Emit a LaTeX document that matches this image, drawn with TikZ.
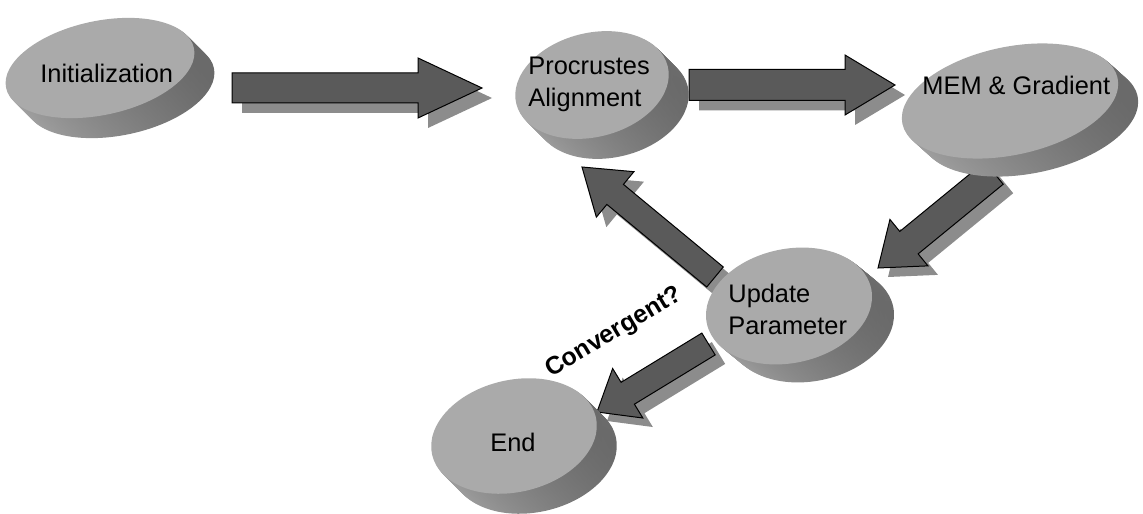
\documentclass[tikz,border=0pt]{standalone}
\usepackage{fontspec}
\setmainfont{Liberation Sans}
\usetikzlibrary{calc}

\definecolor{facegray}{HTML}{AAAAAA}
\definecolor{sidelight}{HTML}{A4A4A4}
\definecolor{sidedark}{HTML}{686868}
\definecolor{arrowfill}{HTML}{5A5A5A}
\definecolor{arrowshadow}{HTML}{8C8C8C}

\tikzset{
  disktop/.style={fill=facegray},
  diskside/.style={left color=sidelight, right color=sidedark},
  disklabel/.style={font=\fontsize{12.7}{16}\selectfont, inner sep=0pt, anchor=base west},
  asklabel/.style={font=\bfseries\fontsize{12.5}{14}\selectfont, inner sep=0pt, anchor=base west},
  arrowbody/.style={fill=arrowfill, draw=black, line width=0.5pt, line join=miter},
  arrowshade/.style={fill=arrowshadow},
}

% tilted cylinder: top face centre (#1,#2), radii #3/#4, tilt #5, depth offset (#6,#7)
\newcommand\drawdisk[7]{%
  \foreach \k in {0,...,17}{%
    \pgfmathsetmacro\f{1-\k/18}%
    \shade[diskside, rotate around={#5:(#1+\f*#6,#2+\f*#7)}]
      (#1+\f*#6,#2+\f*#7) ellipse [x radius=#3, y radius=#4];
  }%
  \fill[disktop, rotate around={#5:(#1,#2)}] (#1,#2) ellipse [x radius=#3, y radius=#4];
}

% block arrow outline from #2 to tip #3: shaft half-width #4, head half-width #5, head length #6
\newcommand\arrowshape[6]{%
  \coordinate (hb) at ($(#3)!#6!(#2)$);
  \path[#1] ($(#2)!#4!90:(#3)$) -- ($(hb)!#4!90:(#3)$) -- ($(hb)!#5!90:(#3)$) -- (#3)
    -- ($(hb)!#5!-90:(#3)$) -- ($(hb)!#4!-90:(#3)$) -- ($(#2)!#4!-90:(#3)$) -- cycle;
}
% block arrow with a drop shadow offset by (#6,#7)
\newcommand\blockarrow[7]{%
  \coordinate (#1-sh) at ($(#1)+(#6,#7)$);
  \coordinate (#2-sh) at ($(#2)+(#6,#7)$);
  \arrowshape{arrowshade}{#1-sh}{#2-sh}{#3}{#4}{#5}
  \arrowshape{arrowbody}{#1}{#2}{#3}{#4}{#5}
}

\begin{document}
\begin{tikzpicture}[x=0.5pt, y=-0.5pt]
\useasboundingbox (0,0) rectangle (1143,513);

% arrow end points
\coordinate (a1s) at (232,88);    \coordinate (a1e) at (482,88);
\coordinate (a2s) at (689,85);    \coordinate (a2e) at (895,85);
\coordinate (a3s) at (994,173);   \coordinate (a3e) at (878,268);
\coordinate (a4s) at (715,277);   \coordinate (a4e) at (582,167);
\coordinate (a5s) at (708.5,344); \coordinate (a5e) at (597,412);

\blockarrow{a1s}{a1e}{7.5pt}{15pt}{32pt}{10}{10}
\blockarrow{a2s}{a2e}{7.75pt}{15pt}{25pt}{10}{10}
\blockarrow{a3s}{a3e}{7.25pt}{15pt}{20pt}{10}{9}
\blockarrow{a4s}{a4e}{6.5pt}{14.75pt}{21.5pt}{10}{10}
\blockarrow{a5s}{a5e}{6.4pt}{14.5pt}{18pt}{10}{9}

% disks
\drawdisk{100}{68}{96}{47}{12}{20}{20}
\drawdisk{592}{85}{78}{52}{14}{20}{20}
\drawdisk{1010}{101}{110}{54}{12}{20}{18}
\drawdisk{789}{306}{84}{57}{12}{22}{18}
\drawdisk{514}{436}{84}{56}{13}{20}{20}

% labels
\node[disklabel] (init) at (40,83) {Initialization};
\node[disklabel] (procr) at (528,75) {\begin{tabular}[t]{@{}l@{}}Procrustes\\Alignment\end{tabular}};
\node[disklabel] (mem) at (922,95) {MEM \& Gradient};
\node[disklabel] (upd) at (728,302) {\begin{tabular}[t]{@{}l@{}}Update\\Parameter\end{tabular}};
\node[disklabel] (endn) at (490,451) {End};
\node[asklabel, rotate=31] (conv) at (551,378) {Convergent?};
\end{tikzpicture}
\end{document}
